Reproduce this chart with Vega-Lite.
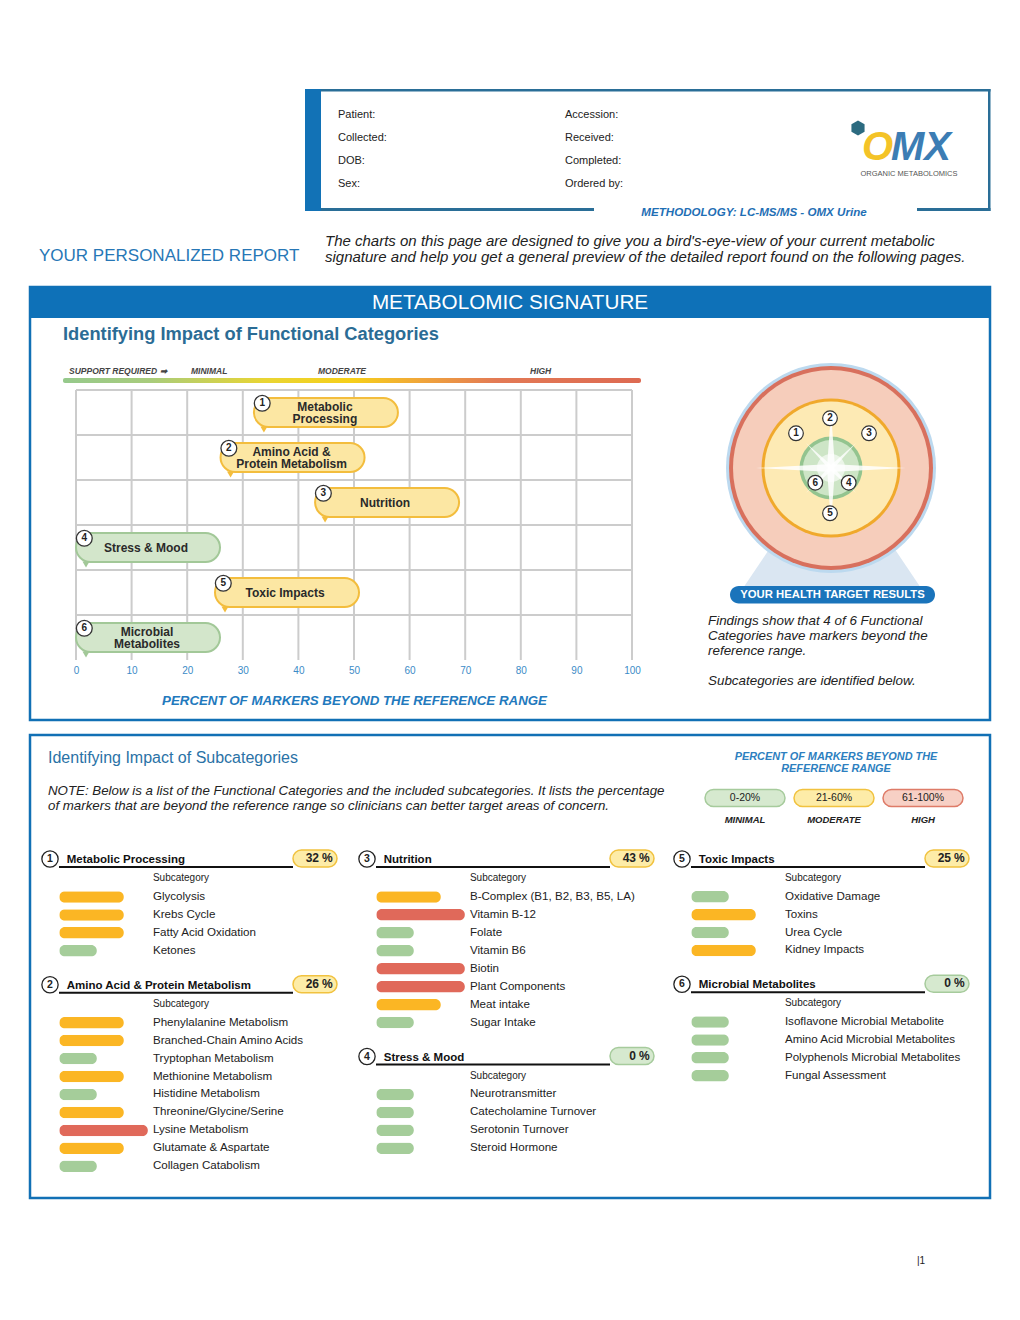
{
"$schema":"https://vega.github.io/schema/vega-lite/v6.json",
"width":1020,"height":1320,"autosize":"none","padding":0,"background":"#ffffff",
"config":{"view":{"stroke":null},"font":"Liberation Sans","text":{"font":"Liberation Sans"}},
"data":{"values":[{}]},
"datasets":{
"cats":[
{"num":1,"cat":"Metabolic Processing","label":"Metabolic\nProcessing","pct":32,"level":"MODERATE"},
{"num":2,"cat":"Amino Acid & Protein Metabolism","label":"Amino Acid &\nProtein Metabolism","pct":26,"level":"MODERATE"},
{"num":3,"cat":"Nutrition","label":"Nutrition","pct":43,"level":"MODERATE"},
{"num":4,"cat":"Stress & Mood","label":"Stress & Mood","pct":0,"level":"MINIMAL"},
{"num":5,"cat":"Toxic Impacts","label":"Toxic Impacts","pct":25,"level":"MODERATE"},
{"num":6,"cat":"Microbial Metabolites","label":"Microbial\nMetabolites","pct":0,"level":"MINIMAL"}
],
"subs":[
{"num":1,"sub":"Glycolysis","level":"MODERATE"},
{"num":1,"sub":"Krebs Cycle","level":"MODERATE"},
{"num":1,"sub":"Fatty Acid Oxidation","level":"MODERATE"},
{"num":1,"sub":"Ketones","level":"MINIMAL"},
{"num":2,"sub":"Phenylalanine Metabolism","level":"MODERATE"},
{"num":2,"sub":"Branched-Chain Amino Acids","level":"MODERATE"},
{"num":2,"sub":"Tryptophan Metabolism","level":"MINIMAL"},
{"num":2,"sub":"Methionine Metabolism","level":"MODERATE"},
{"num":2,"sub":"Histidine Metabolism","level":"MINIMAL"},
{"num":2,"sub":"Threonine/Glycine/Serine","level":"MODERATE"},
{"num":2,"sub":"Lysine Metabolism","level":"HIGH"},
{"num":2,"sub":"Glutamate & Aspartate","level":"MODERATE"},
{"num":2,"sub":"Collagen Catabolism","level":"MINIMAL"},
{"num":3,"sub":"B-Complex (B1, B2, B3, B5, LA)","level":"MODERATE"},
{"num":3,"sub":"Vitamin B-12","level":"HIGH"},
{"num":3,"sub":"Folate","level":"MINIMAL"},
{"num":3,"sub":"Vitamin B6","level":"MINIMAL"},
{"num":3,"sub":"Biotin","level":"HIGH"},
{"num":3,"sub":"Plant Components","level":"HIGH"},
{"num":3,"sub":"Meat intake","level":"MODERATE"},
{"num":3,"sub":"Sugar Intake","level":"MINIMAL"},
{"num":4,"sub":"Neurotransmitter","level":"MINIMAL"},
{"num":4,"sub":"Catecholamine Turnover","level":"MINIMAL"},
{"num":4,"sub":"Serotonin Turnover","level":"MINIMAL"},
{"num":4,"sub":"Steroid Hormone","level":"MINIMAL"},
{"num":5,"sub":"Oxidative Damage","level":"MINIMAL"},
{"num":5,"sub":"Toxins","level":"MODERATE"},
{"num":5,"sub":"Urea Cycle","level":"MINIMAL"},
{"num":5,"sub":"Kidney Impacts","level":"MODERATE"},
{"num":6,"sub":"Isoflavone Microbial Metabolite","level":"MINIMAL"},
{"num":6,"sub":"Amino Acid Microbial Metabolites","level":"MINIMAL"},
{"num":6,"sub":"Polyphenols Microbial Metabolites","level":"MINIMAL"},
{"num":6,"sub":"Fungal Assessment","level":"MINIMAL"}
],
"levels":[
{"level":"MINIMAL","rank":1,"range":"0-20%"},
{"level":"MODERATE","rank":2,"range":"21-60%"},
{"level":"HIGH","rank":3,"range":"61-100%"}
],
"ticks":[{"v":0},{"v":10},{"v":20},{"v":30},{"v":40},{"v":50},{"v":60},{"v":70},{"v":80},{"v":90},{"v":100}],
"fields":[
{"left":"Patient:","right":"Accession:"},
{"left":"Collected:","right":"Received:"},
{"left":"DOB:","right":"Completed:"},
{"left":"Sex:","right":"Ordered by:"}
]
},
"resolve":{"scale":{"x":"independent","y":"independent","color":"independent","fill":"independent","stroke":"independent"},"axis":{"x":"independent","y":"independent"}},
"layer":[
{"mark":{"type":"rect","x":305,"x2":990.5,"y":89,"y2":91.5,"fill":"#2a6e97"},"encoding":{}},
{"mark":{"type":"rect","x":988,"x2":990.5,"y":89,"y2":211,"fill":"#2a6e97"},"encoding":{}},
{"mark":{"type":"rect","x":305,"x2":594,"y":208,"y2":211,"fill":"#2a6e97"},"encoding":{}},
{"mark":{"type":"rect","x":917,"x2":990.5,"y":208,"y2":211,"fill":"#2a6e97"},"encoding":{}},
{"mark":{"type":"rect","x":305,"x2":321,"y":89,"y2":211,"fill":"#1272b6"},"encoding":{}},
{"data":{"name":"fields"},"layer":[
 {"mark":{"type":"text","x":338,"align":"left","baseline":"middle","fontSize":11,"fill":"#222222"},
  "encoding":{"y":{"field":"left","type":"nominal","sort":null,"scale":{"type":"point","range":[115,184],"padding":0},"axis":null},"text":{"field":"left"}}},
 {"mark":{"type":"text","x":565,"align":"left","baseline":"middle","fontSize":11,"fill":"#222222"},
  "encoding":{"y":{"field":"left","type":"nominal","sort":null,"axis":null},"text":{"field":"right"}}}
]},
{"mark":{"type":"point","x":858,"y":128,"shape":"M0,-1L0.866,-0.5L0.866,0.5L0,1L-0.866,0.5L-0.866,-0.5Z","size":230,"filled":true,"fill":"#2c6b80","opacity":1},"encoding":{}},
{"mark":{"type":"text","x":862,"y":160,"text":"O","fontSize":40,"fontWeight":"bold","fontStyle":"italic","fill":"#f4c327","align":"left","baseline":"alphabetic"}},
{"mark":{"type":"text","x":891,"y":160,"text":"MX","fontSize":40,"fontWeight":"bold","fontStyle":"italic","fill":"#3c7db4","align":"left","baseline":"alphabetic"}},
{"mark":{"type":"text","x":909,"y":174,"text":"ORGANIC METABOLOMICS","fontSize":7.5,"fill":"#555555","align":"center","baseline":"middle"}},
{"mark":{"type":"text","x":754,"y":213,"text":"METHODOLOGY: LC-MS/MS - OMX Urine","fontSize":11.6,"fontWeight":"bold","fontStyle":"italic","fill":"#1f6fb5","align":"center","baseline":"middle"}},
{"mark":{"type":"text","x":39,"y":256,"text":"YOUR PERSONALIZED REPORT","fontSize":17,"fill":"#2777b6","align":"left","baseline":"middle"}},
{"mark":{"type":"text","x":325,"y":241,"text":"The charts on this page are designed to give you a bird's-eye-view of your current metabolic","fontSize":15,"fontStyle":"italic","fill":"#222222","align":"left","baseline":"middle"}},
{"mark":{"type":"text","x":325,"y":257,"text":"signature and help you get a general preview of the detailed report found on the following pages.","fontSize":15,"fontStyle":"italic","fill":"#222222","align":"left","baseline":"middle"}},
{"mark":{"type":"rect","x":30,"x2":990,"y":287,"y2":720,"filled":false,"stroke":"#1170b5","strokeWidth":2.5},"encoding":{}},
{"mark":{"type":"rect","x":30,"x2":990,"y":287,"y2":318,"fill":"#0e71b8"},"encoding":{}},
{"mark":{"type":"text","x":510,"y":303,"text":"METABOLOMIC SIGNATURE","fontSize":20.7,"fill":"#ffffff","align":"center","baseline":"middle"}},
{"mark":{"type":"text","x":63,"y":335,"text":"Identifying Impact of Functional Categories","fontSize":18.3,"fontWeight":"bold","fill":"#2b6c95","align":"left","baseline":"middle"}},
{"mark":{"type":"text","x":69,"y":371,"text":"SUPPORT REQUIRED ➡","fontSize":8.5,"fontWeight":"bold","fontStyle":"italic","fill":"#444444","align":"left","baseline":"middle"}},
{"mark":{"type":"text","x":191,"y":371,"text":"MINIMAL","fontSize":8.5,"fontWeight":"bold","fontStyle":"italic","fill":"#444444","align":"left","baseline":"middle"}},
{"mark":{"type":"text","x":318,"y":371,"text":"MODERATE","fontSize":8.5,"fontWeight":"bold","fontStyle":"italic","fill":"#444444","align":"left","baseline":"middle"}},
{"mark":{"type":"text","x":530,"y":371,"text":"HIGH","fontSize":8.5,"fontWeight":"bold","fontStyle":"italic","fill":"#444444","align":"left","baseline":"middle"}},
{"mark":{"type":"rect","x":63,"x2":641,"y":378,"y2":383,"cornerRadius":2,"fill":{"gradient":"linear","x1":0,"y1":0,"x2":1,"y2":0,"stops":[{"offset":0,"color":"#96c98c"},{"offset":0.15,"color":"#a8cc7c"},{"offset":0.35,"color":"#e9d533"},{"offset":0.5,"color":"#f6cf1a"},{"offset":0.62,"color":"#f0a53a"},{"offset":0.75,"color":"#e37a55"},{"offset":1,"color":"#dd6a52"}]}},"encoding":{}},
{"layer":[
 {"data":{"name":"ticks"},"mark":{"type":"rule","y":390,"y2":660,"stroke":"#cccccc","strokeWidth":2},
  "encoding":{"x":{"field":"v","type":"quantitative"}}},
 {"data":{"name":"cats"},"mark":{"type":"rule","x":76,"x2":632,"stroke":"#cccccc","strokeWidth":2},
  "encoding":{"y":{"field":"cat","type":"nominal","sort":{"field":"num"},"bandPosition":0,"axis":null}}},
 {"data":{"values":[{}]},"mark":{"type":"rule","x":76,"x2":632,"y":660,"stroke":"#cccccc","strokeWidth":2},"encoding":{}},
 {"data":{"name":"cats"},"mark":{"type":"rect","x2Offset":144,"height":29,"cornerRadius":14.5,"strokeWidth":2},
  "encoding":{
   "x":{"field":"pct","type":"quantitative","scale":{"domain":[0,100],"range":[76,632],"nice":false,"zero":false},
        "axis":{"values":[0,10,20,30,40,50,60,70,80,90,100],"grid":false,"domain":false,"ticks":false,"tickSize":0,"labelColor":"#3b8bc7","labelFontSize":10,"labelPadding":5,"labelFlush":false,"offset":-660,
                "title":"PERCENT OF MARKERS BEYOND THE REFERENCE RANGE","titleColor":"#2279bd","titleFontSize":13.3,"titleFontStyle":"italic","titleFontWeight":"bold","titlePadding":18}},
   "x2":{"field":"pct"},
   "y":{"field":"cat","type":"nominal","sort":{"field":"num"},"scale":{"range":[390,660],"paddingInner":0,"paddingOuter":0},"axis":null},
   "fill":{"field":"level","type":"nominal","scale":{"domain":["MINIMAL","MODERATE","HIGH"],"range":["#d3e6cb","#fce7a3","#f7d0c5"]},"legend":null},
   "stroke":{"field":"level","type":"nominal","scale":{"domain":["MINIMAL","MODERATE","HIGH"],"range":["#a2c898","#f3bd3d","#de7b68"]},"legend":null}}},
 {"data":{"name":"cats"},"mark":{"type":"point","shape":"triangle-down","size":50,"filled":true,"opacity":1,"xOffset":10,"yOffset":17},
  "encoding":{"x":{"field":"pct","type":"quantitative"},"y":{"field":"cat","type":"nominal","sort":{"field":"num"},"axis":null},
   "color":{"field":"level","type":"nominal","scale":{"domain":["MINIMAL","MODERATE","HIGH"],"range":["#a2c898","#f3bd3d","#de7b68"]},"legend":null}}},
 {"data":{"name":"cats"},"mark":{"type":"point","shape":"circle","size":250,"filled":true,"fill":"#ffffff","stroke":"#333333","strokeWidth":1.3,"opacity":1,"xOffset":8.3,"yOffset":-9.2},
  "encoding":{"x":{"field":"pct","type":"quantitative"},"y":{"field":"cat","type":"nominal","sort":{"field":"num"},"axis":null}}},
 {"data":{"name":"cats"},"mark":{"type":"text","fontSize":10,"fontWeight":"bold","fill":"#222222","align":"center","baseline":"middle","xOffset":8.3,"yOffset":-9.2},
  "encoding":{"x":{"field":"pct","type":"quantitative"},"y":{"field":"cat","type":"nominal","sort":{"field":"num"},"axis":null},"text":{"field":"num"}}},
 {"data":{"name":"cats"},"transform":[{"filter":"indexof(datum.label, '\\n') < 0"}],
  "mark":{"type":"text","fontSize":12,"fontWeight":"bold","fill":"#2a2a2a","align":"center","baseline":"middle","dx":70},
  "encoding":{"x":{"field":"pct","type":"quantitative"},"y":{"field":"cat","type":"nominal","sort":{"field":"num"},"axis":null},"text":{"field":"label"}}},
 {"data":{"name":"cats"},"transform":[{"filter":"indexof(datum.label, '\\n') >= 0"}],
  "mark":{"type":"text","fontSize":12,"fontWeight":"bold","fill":"#2a2a2a","align":"center","baseline":"middle","dx":71,"yOffset":-6,"lineBreak":"\n","lineHeight":12},
  "encoding":{"x":{"field":"pct","type":"quantitative"},"y":{"field":"cat","type":"nominal","sort":{"field":"num"},"axis":null},"text":{"field":"label"}}}
]},
{"mark":{"type":"rule","x":676,"y":375,"y2":585,"stroke":"#b5b5b5","strokeWidth":2},"encoding":{}},
{"mark":{"type":"point","x":832,"y":560,"shape":"M-0.63,-0.16L0.63,-0.16L1,0.39L-1,0.39Z","size":36100,"filled":true,"fill":"#dae6f2","opacity":1},"encoding":{}},
{"mark":{"type":"point","x":831,"y":468,"shape":"circle","size":44100,"filled":true,"fill":"#bcd9ef","opacity":1},"encoding":{}},
{"mark":{"type":"point","x":831,"y":468,"shape":"circle","size":41616,"filled":true,"fill":"#d8705d","opacity":1},"encoding":{}},
{"mark":{"type":"point","x":831,"y":468,"shape":"circle","size":38416,"filled":true,"fill":"#f6cdbb","opacity":1},"encoding":{}},
{"mark":{"type":"point","x":831,"y":468,"shape":"circle","size":19321,"filled":true,"fill":"#f0a92c","opacity":1},"encoding":{}},
{"mark":{"type":"point","x":831,"y":468,"shape":"circle","size":17689,"filled":true,"fill":"#fdeab4","opacity":1},"encoding":{}},
{"mark":{"type":"point","x":831,"y":468,"shape":"circle","size":3969,"filled":true,"fill":"#93c48f","opacity":1},"encoding":{}},
{"mark":{"type":"point","x":831,"y":468,"shape":"circle","size":3136,"filled":true,"fill":"#cde5c6","opacity":1},"encoding":{}},
{"mark":{"type":"point","x":831,"y":468,"shape":"M0,-0.75L0.05,-0.05L1,0L0.05,0.05L0,0.75L-0.05,0.05L-1,0L-0.05,-0.05Z","size":22500,"filled":true,"fill":"#ffffff","opacity":0.85},"encoding":{}},
{"mark":{"type":"point","x":831,"y":468,"shape":"M0,-1L0.06,-0.06L1,0L0.06,0.06L0,1L-0.06,0.06L-1,0L-0.06,-0.06Z","size":5000,"angle":45,"filled":true,"fill":"#ffffff","opacity":0.8},"encoding":{}},
{"mark":{"type":"point","x":831,"y":468,"shape":"circle","size":784,"filled":true,"fill":"#ffffff","opacity":0.6},"encoding":{}},
{"data":{"name":"cats"},"layer":[
 {"mark":{"type":"point","shape":"circle","size":215,"filled":true,"fill":"#ffffff","stroke":"#333333","strokeWidth":1.2,"opacity":1},
  "encoding":{"x":{"field":"num","type":"quantitative","scale":{"domain":[1,2,3,4,5,6],"range":[796,830,869,848.7,830,815.3],"zero":false,"nice":false},"axis":null},
   "y":{"field":"num","type":"quantitative","scale":{"domain":[1,2,3,4,5,6],"range":[433.3,418.3,433.3,482.7,513.3,482.7],"zero":false,"nice":false},"axis":null}}},
 {"mark":{"type":"text","fontSize":10,"fontWeight":"bold","fill":"#222222","align":"center","baseline":"middle"},
  "encoding":{"x":{"field":"num","type":"quantitative","axis":null},"y":{"field":"num","type":"quantitative","axis":null},"text":{"field":"num"}}}
]},
{"mark":{"type":"rect","x":730,"x2":935,"y":586,"y2":603.5,"cornerRadius":8.75,"fill":"#1a74bb"},"encoding":{}},
{"mark":{"type":"text","x":832.5,"y":595,"text":"YOUR HEALTH TARGET RESULTS","fontSize":11.3,"fontWeight":"bold","fill":"#ffffff","align":"center","baseline":"middle"}},
{"mark":{"type":"text","x":708,"y":621,"text":"Findings show that 4 of 6 Functional","fontSize":13.4,"fontStyle":"italic","fill":"#222222","align":"left","baseline":"middle"}},
{"mark":{"type":"text","x":708,"y":636,"text":"Categories have markers beyond the","fontSize":13.4,"fontStyle":"italic","fill":"#222222","align":"left","baseline":"middle"}},
{"mark":{"type":"text","x":708,"y":651,"text":"reference range.","fontSize":13.4,"fontStyle":"italic","fill":"#222222","align":"left","baseline":"middle"}},
{"mark":{"type":"text","x":708,"y":681,"text":"Subcategories are identified below.","fontSize":13.4,"fontStyle":"italic","fill":"#222222","align":"left","baseline":"middle"}},
{"mark":{"type":"rect","x":30,"x2":990,"y":735,"y2":1198,"filled":false,"stroke":"#1170b5","strokeWidth":2.5},"encoding":{}},
{"mark":{"type":"text","x":48,"y":758,"text":"Identifying Impact of Subcategories","fontSize":16,"fill":"#2a72a6","align":"left","baseline":"middle"}},
{"mark":{"type":"text","x":48,"y":791,"text":"NOTE: Below is a list of the Functional Categories and the included subcategories. It lists the percentage","fontSize":13.3,"fontStyle":"italic","fill":"#222222","align":"left","baseline":"middle"}},
{"mark":{"type":"text","x":48,"y":806,"text":"of markers that are beyond the reference range so clinicians can better target areas of concern.","fontSize":13.3,"fontStyle":"italic","fill":"#222222","align":"left","baseline":"middle"}},
{"mark":{"type":"text","x":836,"y":757,"text":"PERCENT OF MARKERS BEYOND THE","fontSize":10.9,"fontWeight":"bold","fontStyle":"italic","fill":"#2d7fbf","align":"center","baseline":"middle"}},
{"mark":{"type":"text","x":836,"y":769,"text":"REFERENCE RANGE","fontSize":10.9,"fontWeight":"bold","fontStyle":"italic","fill":"#2d7fbf","align":"center","baseline":"middle"}},
{"data":{"name":"levels"},"layer":[
 {"mark":{"type":"point","shape":"M-0.7875,-0.2125L0.7875,-0.2125A0.2125,0.2125 0 0 1 0.7875,0.2125L-0.7875,0.2125A0.2125,0.2125 0 0 1 -0.7875,-0.2125Z","size":6400,"y":798,"filled":true,"opacity":1,"strokeWidth":1.5},
  "encoding":{"x":{"field":"level","type":"nominal","scale":{"type":"point","domain":["MINIMAL","MODERATE","HIGH"],"range":[745,923],"padding":0},"axis":null},
   "fill":{"field":"level","type":"nominal","scale":{"domain":["MINIMAL","MODERATE","HIGH"],"range":["#d6e9cf","#fdeca8","#f7d0c5"]},"legend":null},
   "stroke":{"field":"level","type":"nominal","scale":{"domain":["MINIMAL","MODERATE","HIGH"],"range":["#a6cb9c","#f1c23f","#de7b68"]},"legend":null}}},
 {"mark":{"type":"text","y":798,"fontSize":10.5,"fill":"#222222","align":"center","baseline":"middle"},
  "encoding":{"x":{"field":"level","type":"nominal","axis":null},"text":{"field":"range"}}},
 {"mark":{"type":"text","y":820,"fontSize":9.5,"fontWeight":"bold","fontStyle":"italic","fill":"#222222","align":"center","baseline":"middle"},
  "encoding":{"x":{"field":"level","type":"nominal","axis":null},"text":{"field":"level"}}}
]},
{"mark":{"type":"rule","x":350.5,"y":848,"y2":1184,"stroke":"#a0a0a0","strokeWidth":1.5},"encoding":{}},
{"mark":{"type":"rule","x":666.5,"y":848,"y2":1184,"stroke":"#a0a0a0","strokeWidth":1.5},"encoding":{}},
{"layer":[
 {"data":{"name":"subs"},"transform":[{"filter":"datum.num <= 2"},{"lookup":"level","from":{"data":{"name":"levels"},"key":"level","fields":["rank"]}}],
  "layer":[
   {"mark":{"type":"bar","height":11.5,"cornerRadius":5.75},
    "encoding":{"x":{"field":"rank","type":"quantitative","scale":{"type":"pow","exponent":0.78,"domain":[0,3],"range":[59.25,147.9],"zero":true,"nice":false},"axis":null},
     "y":{"field":"sub","type":"nominal","scale":{"type":"point","padding":0,"range":[861,1166.3],"domain":["Metabolic Processing","·1","Glycolysis","Krebs Cycle","Fatty Acid Oxidation","Ketones","·2","Amino Acid & Protein Metabolism","·3","Phenylalanine Metabolism","Branched-Chain Amino Acids","Tryptophan Metabolism","Methionine Metabolism","Histidine Metabolism","Threonine/Glycine/Serine","Lysine Metabolism","Glutamate & Aspartate","Collagen Catabolism"]},"axis":null},
     "color":{"field":"level","type":"nominal","scale":{"domain":["MINIMAL","MODERATE","HIGH"],"range":["#a5cd9a","#fbb624","#e0695a"]},"legend":null}}},
   {"mark":{"type":"text","align":"left","baseline":"middle","dx":5,"fontSize":11.6,"fill":"#222222"},
    "encoding":{"x":{"datum":3,"type":"quantitative"},"y":{"field":"sub","type":"nominal"},"text":{"field":"sub"}}}
  ]},
 {"data":{"name":"cats"},"transform":[{"filter":"datum.num <= 2"}],
  "layer":[
   {"mark":{"type":"point","shape":"stroke","size":54756,"stroke":"#111111","strokeWidth":2,"opacity":1,"xOffset":116.75,"yOffset":6},
    "encoding":{"x":{"datum":0,"type":"quantitative"},"y":{"field":"cat","type":"nominal"}}},
   {"mark":{"type":"point","shape":"circle","size":265,"filled":true,"fill":"#ffffff","stroke":"#222222","strokeWidth":1.3,"opacity":1,"xOffset":-9.25,"yOffset":-2},
    "encoding":{"x":{"datum":0,"type":"quantitative"},"y":{"field":"cat","type":"nominal"}}},
   {"mark":{"type":"text","fontSize":10.5,"fontWeight":"bold","fill":"#222222","align":"center","baseline":"middle","xOffset":-9.25,"yOffset":-2},
    "encoding":{"x":{"datum":0,"type":"quantitative"},"y":{"field":"cat","type":"nominal"},"text":{"field":"num"}}},
   {"mark":{"type":"text","fontSize":11.5,"fontWeight":"bold","fill":"#111111","align":"left","baseline":"middle","dx":7.5,"yOffset":-1},
    "encoding":{"x":{"datum":0,"type":"quantitative"},"y":{"field":"cat","type":"nominal"},"text":{"field":"cat"}}},
   {"mark":{"type":"text","text":"Subcategory","fontSize":10,"fill":"#222222","align":"left","baseline":"middle","dx":5,"yOffset":17},
    "encoding":{"x":{"datum":3,"type":"quantitative"},"y":{"field":"cat","type":"nominal"}}},
   {"mark":{"type":"point","shape":"M-0.614,-0.386L0.614,-0.386A0.386,0.386 0 0 1 0.614,0.386L-0.614,0.386A0.386,0.386 0 0 1 -0.614,-0.386Z","size":1936,"filled":true,"opacity":1,"strokeWidth":1.5,"xOffset":255.75,"yOffset":-2.5},
    "encoding":{"x":{"datum":0,"type":"quantitative"},"y":{"field":"cat","type":"nominal"},
     "fill":{"field":"level","type":"nominal","scale":{"domain":["MINIMAL","MODERATE","HIGH"],"range":["#d6e9cf","#fdeca8","#f7d0c5"]},"legend":null},
     "stroke":{"field":"level","type":"nominal","scale":{"domain":["MINIMAL","MODERATE","HIGH"],"range":["#a6cb9c","#f1c23f","#de7b68"]},"legend":null}}},
   {"mark":{"type":"text","fontSize":12,"fontWeight":"bold","fill":"#222222","align":"right","baseline":"middle","xOffset":259.75,"yOffset":-3},
    "encoding":{"x":{"datum":0,"type":"quantitative"},"y":{"field":"cat","type":"nominal"},"text":{"field":"pct"}}},
   {"mark":{"type":"text","text":"%","fontSize":12,"fontWeight":"bold","fill":"#222222","align":"left","baseline":"middle","xOffset":262.75,"yOffset":-3},
    "encoding":{"x":{"datum":0,"type":"quantitative"},"y":{"field":"cat","type":"nominal"}}}
  ]}
]},
{"layer":[
 {"data":{"name":"subs"},"transform":[{"filter":"datum.num == 3 || datum.num == 4"},{"lookup":"level","from":{"data":{"name":"levels"},"key":"level","fields":["rank"]}}],
  "layer":[
   {"mark":{"type":"bar","height":11.5,"cornerRadius":5.75},
    "encoding":{"x":{"field":"rank","type":"quantitative","scale":{"type":"pow","exponent":0.78,"domain":[0,3],"range":[376.25,464.9],"zero":true,"nice":false},"axis":null},
     "y":{"field":"sub","type":"nominal","scale":{"type":"point","padding":0,"range":[861,1148.3],"domain":["Nutrition","·1","B-Complex (B1, B2, B3, B5, LA)","Vitamin B-12","Folate","Vitamin B6","Biotin","Plant Components","Meat intake","Sugar Intake","·2","Stress & Mood","·3","Neurotransmitter","Catecholamine Turnover","Serotonin Turnover","Steroid Hormone"]},"axis":null},
     "color":{"field":"level","type":"nominal","scale":{"domain":["MINIMAL","MODERATE","HIGH"],"range":["#a5cd9a","#fbb624","#e0695a"]},"legend":null}}},
   {"mark":{"type":"text","align":"left","baseline":"middle","dx":5,"fontSize":11.6,"fill":"#222222"},
    "encoding":{"x":{"datum":3,"type":"quantitative"},"y":{"field":"sub","type":"nominal"},"text":{"field":"sub"}}}
  ]},
 {"data":{"name":"cats"},"transform":[{"filter":"datum.num == 3 || datum.num == 4"}],
  "layer":[
   {"mark":{"type":"point","shape":"stroke","size":54756,"stroke":"#111111","strokeWidth":2,"opacity":1,"xOffset":116.75,"yOffset":6},
    "encoding":{"x":{"datum":0,"type":"quantitative"},"y":{"field":"cat","type":"nominal"}}},
   {"mark":{"type":"point","shape":"circle","size":265,"filled":true,"fill":"#ffffff","stroke":"#222222","strokeWidth":1.3,"opacity":1,"xOffset":-9.25,"yOffset":-2},
    "encoding":{"x":{"datum":0,"type":"quantitative"},"y":{"field":"cat","type":"nominal"}}},
   {"mark":{"type":"text","fontSize":10.5,"fontWeight":"bold","fill":"#222222","align":"center","baseline":"middle","xOffset":-9.25,"yOffset":-2},
    "encoding":{"x":{"datum":0,"type":"quantitative"},"y":{"field":"cat","type":"nominal"},"text":{"field":"num"}}},
   {"mark":{"type":"text","fontSize":11.5,"fontWeight":"bold","fill":"#111111","align":"left","baseline":"middle","dx":7.5,"yOffset":-1},
    "encoding":{"x":{"datum":0,"type":"quantitative"},"y":{"field":"cat","type":"nominal"},"text":{"field":"cat"}}},
   {"mark":{"type":"text","text":"Subcategory","fontSize":10,"fill":"#222222","align":"left","baseline":"middle","dx":5,"yOffset":17},
    "encoding":{"x":{"datum":3,"type":"quantitative"},"y":{"field":"cat","type":"nominal"}}},
   {"mark":{"type":"point","shape":"M-0.614,-0.386L0.614,-0.386A0.386,0.386 0 0 1 0.614,0.386L-0.614,0.386A0.386,0.386 0 0 1 -0.614,-0.386Z","size":1936,"filled":true,"opacity":1,"strokeWidth":1.5,"xOffset":255.75,"yOffset":-2.5},
    "encoding":{"x":{"datum":0,"type":"quantitative"},"y":{"field":"cat","type":"nominal"},
     "fill":{"field":"level","type":"nominal","scale":{"domain":["MINIMAL","MODERATE","HIGH"],"range":["#d6e9cf","#fdeca8","#f7d0c5"]},"legend":null},
     "stroke":{"field":"level","type":"nominal","scale":{"domain":["MINIMAL","MODERATE","HIGH"],"range":["#a6cb9c","#f1c23f","#de7b68"]},"legend":null}}},
   {"mark":{"type":"text","fontSize":12,"fontWeight":"bold","fill":"#222222","align":"right","baseline":"middle","xOffset":259.75,"yOffset":-3},
    "encoding":{"x":{"datum":0,"type":"quantitative"},"y":{"field":"cat","type":"nominal"},"text":{"field":"pct"}}},
   {"mark":{"type":"text","text":"%","fontSize":12,"fontWeight":"bold","fill":"#222222","align":"left","baseline":"middle","xOffset":262.75,"yOffset":-3},
    "encoding":{"x":{"datum":0,"type":"quantitative"},"y":{"field":"cat","type":"nominal"}}}
  ]}
]},
{"layer":[
 {"data":{"name":"subs"},"transform":[{"filter":"datum.num >= 5"},{"lookup":"level","from":{"data":{"name":"levels"},"key":"level","fields":["rank"]}}],
  "layer":[
   {"mark":{"type":"bar","height":11.5,"cornerRadius":5.75},
    "encoding":{"x":{"field":"rank","type":"quantitative","scale":{"type":"pow","exponent":0.78,"domain":[0,3],"range":[691.25,779.9],"zero":true,"nice":false},"axis":null},
     "y":{"field":"sub","type":"nominal","scale":{"type":"point","padding":0,"range":[861,1075.7],"domain":["Toxic Impacts","·1","Oxidative Damage","Toxins","Urea Cycle","Kidney Impacts","·2","Microbial Metabolites","·3","Isoflavone Microbial Metabolite","Amino Acid Microbial Metabolites","Polyphenols Microbial Metabolites","Fungal Assessment"]},"axis":null},
     "color":{"field":"level","type":"nominal","scale":{"domain":["MINIMAL","MODERATE","HIGH"],"range":["#a5cd9a","#fbb624","#e0695a"]},"legend":null}}},
   {"mark":{"type":"text","align":"left","baseline":"middle","dx":5,"fontSize":11.6,"fill":"#222222"},
    "encoding":{"x":{"datum":3,"type":"quantitative"},"y":{"field":"sub","type":"nominal"},"text":{"field":"sub"}}}
  ]},
 {"data":{"name":"cats"},"transform":[{"filter":"datum.num >= 5"}],
  "layer":[
   {"mark":{"type":"point","shape":"stroke","size":54756,"stroke":"#111111","strokeWidth":2,"opacity":1,"xOffset":116.75,"yOffset":6},
    "encoding":{"x":{"datum":0,"type":"quantitative"},"y":{"field":"cat","type":"nominal"}}},
   {"mark":{"type":"point","shape":"circle","size":265,"filled":true,"fill":"#ffffff","stroke":"#222222","strokeWidth":1.3,"opacity":1,"xOffset":-9.25,"yOffset":-2},
    "encoding":{"x":{"datum":0,"type":"quantitative"},"y":{"field":"cat","type":"nominal"}}},
   {"mark":{"type":"text","fontSize":10.5,"fontWeight":"bold","fill":"#222222","align":"center","baseline":"middle","xOffset":-9.25,"yOffset":-2},
    "encoding":{"x":{"datum":0,"type":"quantitative"},"y":{"field":"cat","type":"nominal"},"text":{"field":"num"}}},
   {"mark":{"type":"text","fontSize":11.5,"fontWeight":"bold","fill":"#111111","align":"left","baseline":"middle","dx":7.5,"yOffset":-1},
    "encoding":{"x":{"datum":0,"type":"quantitative"},"y":{"field":"cat","type":"nominal"},"text":{"field":"cat"}}},
   {"mark":{"type":"text","text":"Subcategory","fontSize":10,"fill":"#222222","align":"left","baseline":"middle","dx":5,"yOffset":17},
    "encoding":{"x":{"datum":3,"type":"quantitative"},"y":{"field":"cat","type":"nominal"}}},
   {"mark":{"type":"point","shape":"M-0.614,-0.386L0.614,-0.386A0.386,0.386 0 0 1 0.614,0.386L-0.614,0.386A0.386,0.386 0 0 1 -0.614,-0.386Z","size":1936,"filled":true,"opacity":1,"strokeWidth":1.5,"xOffset":255.75,"yOffset":-2.5},
    "encoding":{"x":{"datum":0,"type":"quantitative"},"y":{"field":"cat","type":"nominal"},
     "fill":{"field":"level","type":"nominal","scale":{"domain":["MINIMAL","MODERATE","HIGH"],"range":["#d6e9cf","#fdeca8","#f7d0c5"]},"legend":null},
     "stroke":{"field":"level","type":"nominal","scale":{"domain":["MINIMAL","MODERATE","HIGH"],"range":["#a6cb9c","#f1c23f","#de7b68"]},"legend":null}}},
   {"mark":{"type":"text","fontSize":12,"fontWeight":"bold","fill":"#222222","align":"right","baseline":"middle","xOffset":259.75,"yOffset":-3},
    "encoding":{"x":{"datum":0,"type":"quantitative"},"y":{"field":"cat","type":"nominal"},"text":{"field":"pct"}}},
   {"mark":{"type":"text","text":"%","fontSize":12,"fontWeight":"bold","fill":"#222222","align":"left","baseline":"middle","xOffset":262.75,"yOffset":-3},
    "encoding":{"x":{"datum":0,"type":"quantitative"},"y":{"field":"cat","type":"nominal"}}}
  ]}
]},
{"mark":{"type":"text","x":917,"y":1261,"text":"|1","fontSize":10,"fill":"#222222","align":"left","baseline":"middle"}}
]
}
